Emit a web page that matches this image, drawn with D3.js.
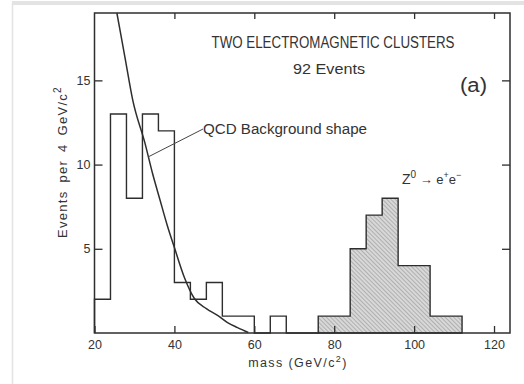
<!DOCTYPE html>
<html>
<head>
<meta charset="utf-8">
<script src="https://cdn.jsdelivr.net/npm/d3@7"></script>
<style>
  html, body { margin: 0; padding: 0; background: #fff; }
  svg { display: block; }
  text { font-family: "Liberation Sans", Arial, sans-serif; fill: #333; }
</style>
</head>
<body>
<svg id="chart" width="524" height="384"></svg>
<script>
// Background histogram (4 GeV bins, lower edges) and counts
const bgLow   = [20, 24, 28, 32, 36, 40, 44, 48, 52, 56, 60, 64, 68, 72];
const bgCount = [ 2, 13,  8, 13, 12,  3,  2,  3,  1,  1,  0,  1,  0,  0];
// Z0 -> e+e- signal histogram (shaded)
const zLow   = [76, 80, 84, 88, 92, 96, 100, 104, 108];
const zCount = [ 1,  1,  5,  7,  8,  4,   4,   1,   1];
const binWidth = 4;
// QCD background shape: mass (GeV/c^2) and events per 4 GeV/c^2
const qcdMass  = [25.6, 27.6, 29.6, 32.6, 34.5, 36.4, 38.2, 40.1, 42.5, 45.0, 48.0, 50.8, 53.3, 55.8, 58.5];
const qcdValue = [19.0, 16.4, 13.8, 11.3,  9.5,  7.9,  6.4,  5.0,  3.3, 2.05, 1.45, 1.05, 0.62, 0.32, 0.03];
// Axis ticks
const xTicks = [20, 40, 60, 80, 100, 120];
const yTicks = [5, 10, 15];

const svg = d3.select("#chart");
const x = d3.scaleLinear().domain([20, 124]).range([94.5, 510]);
const y = d3.scaleLinear().domain([0, 19]).range([333, 13]);

// page edge
svg.append("line").attr("x1", 12).attr("x2", 524).attr("y1", 3).attr("y2", 3)
  .attr("stroke", "#e3e3e3").attr("stroke-width", 4);
svg.append("line").attr("x1", 12.5).attr("x2", 12.5).attr("y1", 3).attr("y2", 384)
  .attr("stroke", "#e3e3e3").attr("stroke-width", 1.5);

// hatch pattern for the signal region
const defs = svg.append("defs");
const pat = defs.append("pattern").attr("id", "hatch").attr("patternUnits", "userSpaceOnUse")
  .attr("width", 3).attr("height", 3).attr("patternTransform", "rotate(-45)");
pat.append("rect").attr("width", 3).attr("height", 3).attr("fill", "#d8d8d8");
pat.append("line").attr("x1", 0).attr("x2", 0).attr("y1", 0).attr("y2", 3)
  .attr("stroke", "#888", ).attr("stroke-width", 1);

function stepPoints(lows, counts) {
  const pts = [[lows[0], 0]];
  lows.forEach((lo, i) => {
    pts.push([lo, counts[i]]);
    pts.push([lo + binWidth, counts[i]]);
  });
  pts.push([lows[lows.length - 1] + binWidth, 0]);
  return pts;
}
const line = d3.line().x(d => x(d[0])).y(d => y(d[1]));

// signal histogram
svg.append("path").datum(stepPoints(zLow, zCount))
  .attr("d", d => line(d) + "Z")
  .attr("fill", "url(#hatch)").attr("stroke", "#2e2e2e").attr("stroke-width", 1.4);

// background histogram
svg.append("path").datum(stepPoints(bgLow, bgCount))
  .attr("d", line)
  .attr("fill", "none").attr("stroke", "#2e2e2e").attr("stroke-width", 1.4);

// QCD curve
const qcd = qcdMass.map((m, i) => [m, qcdValue[i]]);
svg.append("path").datum(qcd)
  .attr("d", d3.line().x(d => x(d[0])).y(d => y(d[1])).curve(d3.curveMonotoneX))
  .attr("fill", "none").attr("stroke", "#2e2e2e").attr("stroke-width", 1.5);

// frame
svg.append("rect").attr("x", x(20)).attr("y", y(19))
  .attr("width", x(124) - x(20)).attr("height", y(0) - y(19))
  .attr("fill", "none").attr("stroke", "#2e2e2e").attr("stroke-width", 1.5);

// axes
function styleAxis(g) {
  g.select(".domain").remove();
  g.selectAll("line").attr("stroke", "#2e2e2e").attr("stroke-width", 1.3);
  g.selectAll("text").attr("font-size", 12.5).attr("fill", "#333")
    .attr("font-family", "Liberation Sans, Arial, sans-serif");
}
svg.append("g").attr("transform", `translate(0,${y(0)})`)
  .call(d3.axisBottom(x).tickValues(xTicks).tickSize(-7).tickPadding(7).tickFormat(d3.format("d")))
  .call(styleAxis);
svg.append("g").attr("transform", `translate(0,${y(19)})`)
  .call(d3.axisTop(x).tickValues(xTicks.slice(1)).tickSize(-6).tickFormat(""))
  .call(styleAxis);
svg.append("g").attr("transform", `translate(${x(20)},0)`)
  .call(d3.axisLeft(y).tickValues(yTicks).tickSize(-8).tickPadding(4).tickFormat(d3.format("d")))
  .call(styleAxis);
svg.append("g").attr("transform", `translate(${x(124)},0)`)
  .call(d3.axisRight(y).tickValues(yTicks).tickSize(-8).tickFormat(""))
  .call(styleAxis);

// axis titles
const xt = svg.append("text").attr("x", 298).attr("y", 367).attr("text-anchor", "middle")
  .attr("font-size", 12.5).attr("letter-spacing", 1.4);
xt.append("tspan").text("mass (GeV/c");
xt.append("tspan").attr("dy", -5).attr("font-size", 9).text("2");
xt.append("tspan").attr("dy", 5).text(")");

const yt = svg.append("text").attr("transform", "translate(67,162) rotate(-90)")
  .attr("text-anchor", "middle").attr("font-size", 13).attr("letter-spacing", 1.3)
  .attr("word-spacing", 3);
yt.append("tspan").text("Events per 4 GeV/c");
yt.append("tspan").attr("dy", -6).attr("font-size", 10).text("2");

// annotations
svg.append("text").attr("x", 333).attr("y", 48).attr("text-anchor", "middle")
  .attr("font-size", 16).attr("textLength", 243).attr("lengthAdjust", "spacingAndGlyphs")
  .text("TWO ELECTROMAGNETIC CLUSTERS");
svg.append("text").attr("x", 329).attr("y", 74).attr("text-anchor", "middle")
  .attr("font-size", 15).attr("textLength", 72).attr("lengthAdjust", "spacingAndGlyphs")
  .text("92 Events");
svg.append("text").attr("x", 460).attr("y", 92)
  .attr("font-size", 20).attr("textLength", 27).attr("lengthAdjust", "spacingAndGlyphs")
  .text("(a)");
svg.append("text").attr("x", 203).attr("y", 134)
  .attr("font-size", 14).attr("textLength", 164).attr("lengthAdjust", "spacingAndGlyphs")
  .text("QCD Background shape");
svg.append("line").attr("x1", 148).attr("y1", 157).attr("x2", 203).attr("y2", 129)
  .attr("stroke", "#444").attr("stroke-width", 1);

const zt = svg.append("text").attr("x", 402).attr("y", 184).attr("font-size", 14);
zt.append("tspan").text("Z");
zt.append("tspan").attr("dy", -6).attr("font-size", 10).text("0");
zt.append("tspan").attr("dy", 6).attr("font-size", 13).text(" \u2192 e");
zt.append("tspan").attr("dy", -6).attr("font-size", 9).text("+");
zt.append("tspan").attr("dy", 6).attr("font-size", 13).text("e");
zt.append("tspan").attr("dy", -6).attr("font-size", 9).text("\u2212");
</script>
</body>
</html>
